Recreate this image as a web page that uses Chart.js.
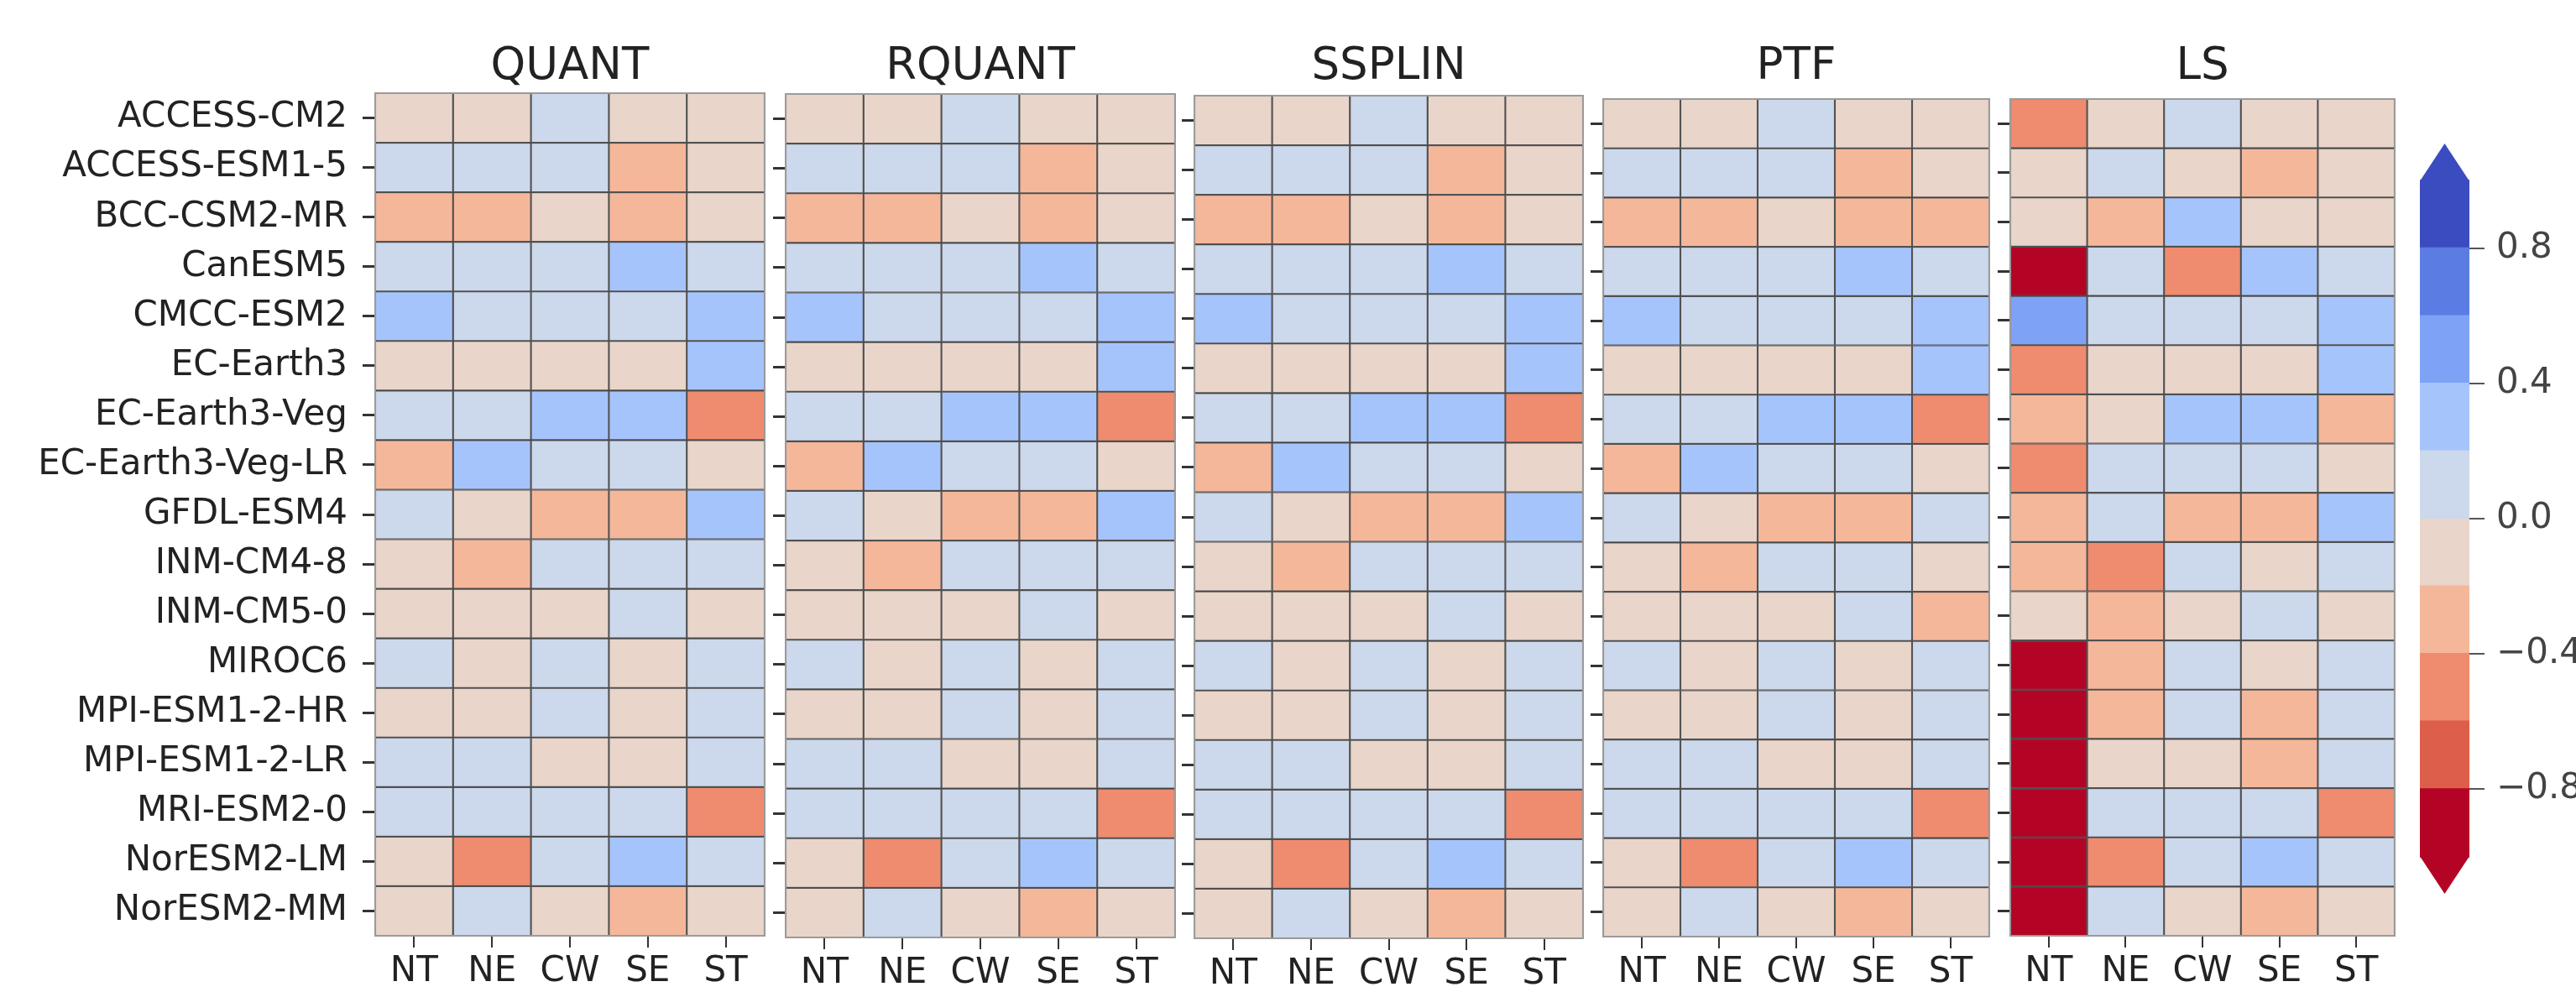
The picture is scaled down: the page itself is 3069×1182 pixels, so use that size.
<!DOCTYPE html>
<html>
<head>
<meta charset="utf-8">
<script src="https://cdn.jsdelivr.net/npm/chart.js@4.4.1/dist/chart.umd.min.js"></script>
<style>
  body { margin: 0; background: #fff; width: 3069px; height: 1182px; overflow: hidden; position: relative; }
  canvas { position: absolute; top: 0; }
</style>
</head>
<body>
<script>
// Données
const models = ['ACCESS-CM2', 'ACCESS-ESM1-5', 'BCC-CSM2-MR', 'CanESM5', 'CMCC-ESM2', 'EC-Earth3',
  'EC-Earth3-Veg', 'EC-Earth3-Veg-LR', 'GFDL-ESM4', 'INM-CM4-8', 'INM-CM5-0', 'MIROC6',
  'MPI-ESM1-2-HR', 'MPI-ESM1-2-LR', 'MRI-ESM2-0', 'NorESM2-LM', 'NorESM2-MM'];
const regions = ['NT', 'NE', 'CW', 'SE', 'ST'];
const methods = ['QUANT', 'RQUANT', 'SSPLIN', 'PTF', 'LS'];

const quant = [
  [-0.1, -0.1,  0.1, -0.1, -0.1],
  [ 0.1,  0.1,  0.1, -0.3, -0.1],
  [-0.3, -0.3, -0.1, -0.3, -0.1],
  [ 0.1,  0.1,  0.1,  0.3,  0.1],
  [ 0.3,  0.1,  0.1,  0.1,  0.3],
  [-0.1, -0.1, -0.1, -0.1,  0.3],
  [ 0.1,  0.1,  0.3,  0.3, -0.5],
  [-0.3,  0.3,  0.1,  0.1, -0.1],
  [ 0.1, -0.1, -0.3, -0.3,  0.3],
  [-0.1, -0.3,  0.1,  0.1,  0.1],
  [-0.1, -0.1, -0.1,  0.1, -0.1],
  [ 0.1, -0.1,  0.1, -0.1,  0.1],
  [-0.1, -0.1,  0.1, -0.1,  0.1],
  [ 0.1,  0.1, -0.1, -0.1,  0.1],
  [ 0.1,  0.1,  0.1,  0.1, -0.5],
  [-0.1, -0.5,  0.1,  0.3,  0.1],
  [-0.1,  0.1, -0.1, -0.3, -0.1]
];
const rquant = [
  [-0.1, -0.1,  0.1, -0.1, -0.1],
  [ 0.1,  0.1,  0.1, -0.3, -0.1],
  [-0.3, -0.3, -0.1, -0.3, -0.1],
  [ 0.1,  0.1,  0.1,  0.3,  0.1],
  [ 0.3,  0.1,  0.1,  0.1,  0.3],
  [-0.1, -0.1, -0.1, -0.1,  0.3],
  [ 0.1,  0.1,  0.3,  0.3, -0.5],
  [-0.3,  0.3,  0.1,  0.1, -0.1],
  [ 0.1, -0.1, -0.3, -0.3,  0.3],
  [-0.1, -0.3,  0.1,  0.1,  0.1],
  [-0.1, -0.1, -0.1,  0.1, -0.1],
  [ 0.1, -0.1,  0.1, -0.1,  0.1],
  [-0.1, -0.1,  0.1, -0.1,  0.1],
  [ 0.1,  0.1, -0.1, -0.1,  0.1],
  [ 0.1,  0.1,  0.1,  0.1, -0.5],
  [-0.1, -0.5,  0.1,  0.3,  0.1],
  [-0.1,  0.1, -0.1, -0.3, -0.1]
];
const ssplin = [
  [-0.1, -0.1,  0.1, -0.1, -0.1],
  [ 0.1,  0.1,  0.1, -0.3, -0.1],
  [-0.3, -0.3, -0.1, -0.3, -0.1],
  [ 0.1,  0.1,  0.1,  0.3,  0.1],
  [ 0.3,  0.1,  0.1,  0.1,  0.3],
  [-0.1, -0.1, -0.1, -0.1,  0.3],
  [ 0.1,  0.1,  0.3,  0.3, -0.5],
  [-0.3,  0.3,  0.1,  0.1, -0.1],
  [ 0.1, -0.1, -0.3, -0.3,  0.3],
  [-0.1, -0.3,  0.1,  0.1,  0.1],
  [-0.1, -0.1, -0.1,  0.1, -0.1],
  [ 0.1, -0.1,  0.1, -0.1,  0.1],
  [-0.1, -0.1,  0.1, -0.1,  0.1],
  [ 0.1,  0.1, -0.1, -0.1,  0.1],
  [ 0.1,  0.1,  0.1,  0.1, -0.5],
  [-0.1, -0.5,  0.1,  0.3,  0.1],
  [-0.1,  0.1, -0.1, -0.3, -0.1]
];
const ptf = [
  [-0.1, -0.1,  0.1, -0.1, -0.1],
  [ 0.1,  0.1,  0.1, -0.3, -0.1],
  [-0.3, -0.3, -0.1, -0.3, -0.3],
  [ 0.1,  0.1,  0.1,  0.3,  0.1],
  [ 0.3,  0.1,  0.1,  0.1,  0.3],
  [-0.1, -0.1, -0.1, -0.1,  0.3],
  [ 0.1,  0.1,  0.3,  0.3, -0.5],
  [-0.3,  0.3,  0.1,  0.1, -0.1],
  [ 0.1, -0.1, -0.3, -0.3,  0.1],
  [-0.1, -0.3,  0.1,  0.1, -0.1],
  [-0.1, -0.1, -0.1,  0.1, -0.3],
  [ 0.1, -0.1,  0.1, -0.1,  0.1],
  [-0.1, -0.1,  0.1, -0.1,  0.1],
  [ 0.1,  0.1, -0.1, -0.1,  0.1],
  [ 0.1,  0.1,  0.1,  0.1, -0.5],
  [-0.1, -0.5,  0.1,  0.3,  0.1],
  [-0.1,  0.1, -0.1, -0.3, -0.1]
];
const ls = [
  [-0.5, -0.1,  0.1, -0.1, -0.1],
  [-0.1,  0.1, -0.1, -0.3, -0.1],
  [-0.1, -0.3,  0.3, -0.1, -0.1],
  [-0.9,  0.1, -0.5,  0.3,  0.1],
  [ 0.5,  0.1,  0.1,  0.1,  0.3],
  [-0.5, -0.1, -0.1, -0.1,  0.3],
  [-0.3, -0.1,  0.3,  0.3, -0.3],
  [-0.5,  0.1,  0.1,  0.1, -0.1],
  [-0.3,  0.1, -0.3, -0.3,  0.3],
  [-0.3, -0.5,  0.1, -0.1,  0.1],
  [-0.1, -0.3, -0.1,  0.1, -0.1],
  [-0.9, -0.3,  0.1, -0.1,  0.1],
  [-0.9, -0.3,  0.1, -0.3,  0.1],
  [-0.9, -0.1, -0.1, -0.3,  0.1],
  [-0.9,  0.1,  0.1,  0.1, -0.5],
  [-0.9, -0.5,  0.1,  0.3,  0.1],
  [-0.9,  0.1, -0.1, -0.3, -0.1]
];

// Palette (coolwarm inversée, 10 classes)
const levels = [-1.0, -0.8, -0.6, -0.4, -0.2, 0.0, 0.2, 0.4, 0.6, 0.8, 1.0];
const levelColors = ['#b40426', '#dd5e4b', '#ef8b6e', '#f5b79a', '#e9d5c9',
  '#ccd8eb', '#a6c4fc', '#7ea2f6', '#5b7de3', '#3b4cc0'];
const cbarTicks = [-0.8, -0.4, 0.0, 0.4, 0.8];

function colorFor(v) {
  for (let i = 0; i < levelColors.length; i++) {
    if (v < levels[i + 1]) return levelColors[i];
  }
  return levelColors[levelColors.length - 1];
}

Chart.defaults.font.family = '"DejaVu Sans", sans-serif';
Chart.defaults.color = '#222';

// Titre de chaque panneau, centré sur la zone du graphique
const panelTitle = {
  id: 'panelTitle',
  afterDraw(chart, args, opts) {
    if (!opts.text) return;
    const { ctx, chartArea } = chart;
    ctx.save();
    ctx.strokeStyle = '#9a9a9a';
    ctx.lineWidth = 2;
    ctx.strokeRect(chartArea.left, chartArea.top, chartArea.right - chartArea.left, chartArea.bottom - chartArea.top);
    ctx.font = '53px "DejaVu Sans"';
    ctx.fillStyle = '#222';
    ctx.textAlign = 'center';
    ctx.textBaseline = 'alphabetic';
    ctx.fillText(opts.text, (chartArea.left + chartArea.right) / 2, 94);
    ctx.restore();
  }
};

// Triangles d'extension de la barre de couleur
const cbarEnds = {
  id: 'cbarEnds',
  afterDatasetsDraw(chart) {
    const { ctx, chartArea, scales } = chart;
    const y = scales.y;
    const mid = (chartArea.left + chartArea.right) / 2;
    const top = y.getPixelForValue(levels[levels.length - 1]);
    const bot = y.getPixelForValue(levels[0]);
    ctx.save();
    ctx.fillStyle = levelColors[levelColors.length - 1];
    ctx.beginPath();
    ctx.moveTo(chartArea.left, top + 0.5);
    ctx.lineTo(mid, y.getPixelForValue(y.max));
    ctx.lineTo(chartArea.right, top + 0.5);
    ctx.closePath();
    ctx.fill();
    ctx.fillStyle = levelColors[0];
    ctx.beginPath();
    ctx.moveTo(chartArea.left, bot - 0.5);
    ctx.lineTo(mid, y.getPixelForValue(y.min));
    ctx.lineTo(chartArea.right, bot - 0.5);
    ctx.closePath();
    ctx.fill();
    ctx.restore();
  }
};

const H = 1182;
const panels = [
  { name: 'QUANT', values: quant, box: [447, 111, 911, 1115] },
  { name: 'RQUANT', values: rquant, box: [936, 112, 1400, 1117] },
  { name: 'SSPLIN', values: ssplin, box: [1423, 114, 1886, 1118] },
  { name: 'PTF', values: ptf, box: [1910, 118, 2370, 1116] },
  { name: 'LS', values: ls, box: [2395, 118, 2853, 1115] }
];

panels.forEach((p, k) => {
  const [left, top, right, bottom] = p.box;
  const leftSpace = k === 0 ? left : 30;
  const rightPad = 8;
  const canvas = document.createElement('canvas');
  canvas.width = right - left + leftSpace + rightPad;
  canvas.height = H;
  canvas.style.left = (left - leftSpace) + 'px';
  document.body.appendChild(canvas);

  new Chart(canvas, {
    type: 'bar',
    data: {
      labels: models,
      datasets: regions.map((r, j) => ({
        label: r,
        data: models.map(() => [j, j + 1]),
        backgroundColor: p.values.map(row => colorFor(row[j])),
        borderColor: 'rgba(55,55,55,0.85)',
        borderWidth: 1.4,
        borderSkipped: false,
        grouped: false,
        barPercentage: 1,
        categoryPercentage: 1
      }))
    },
    plugins: [panelTitle],
    options: {
      indexAxis: 'y',
      responsive: false,
      animation: false,
      layout: { padding: { top: top, right: rightPad, bottom: 0, left: 0 } },
      plugins: {
        legend: { display: false },
        tooltip: { enabled: false },
        panelTitle: { text: p.name }
      },
      scales: {
        y: {
          type: 'category',
          grid: { offset: false, drawOnChartArea: false, tickLength: 15, lineWidth: 3, color: '#333' },
          border: { display: false },
          ticks: { display: k === 0, font: { size: 42 }, color: '#222', padding: 18 },
          afterFit: s => { s.width = leftSpace; }
        },
        x: {
          type: 'linear',
          min: 0,
          max: regions.length,
          grid: { drawOnChartArea: false, tickLength: 14, lineWidth: 2, color: '#333' },
          border: { display: false },
          ticks: { autoSkip: false, maxRotation: 0, font: { size: 42 }, color: '#222', padding: 4,
            callback: (v, i) => regions[i] },
          afterBuildTicks: s => { s.ticks = regions.map((r, i) => ({ value: i + 0.5 })); },
          afterFit: s => { s.height = H - bottom; }
        }
      }
    }
  });
});

// Barre de couleur
const cb = document.createElement('canvas');
cb.width = 3069 - 2860;
cb.height = H;
cb.style.left = '2860px';
document.body.appendChild(cb);

new Chart(cb, {
  type: 'bar',
  data: {
    labels: [''],
    datasets: levelColors.map((c, i) => ({
      data: [[levels[i], levels[i + 1]]],
      backgroundColor: c,
      borderWidth: 0,
      inflateAmount: 1,
      grouped: false,
      barPercentage: 1,
      categoryPercentage: 1
    }))
  },
  plugins: [cbarEnds],
  options: {
    responsive: false,
    animation: false,
    layout: { padding: { top: 171, left: 23, right: 0, bottom: H - 1065 } },
    plugins: { legend: { display: false }, tooltip: { enabled: false } },
    scales: {
      x: { display: false },
      y: {
        position: 'right',
        min: -1.11,
        max: 1.11,
        grid: { drawOnChartArea: false, tickLength: 18, lineWidth: 2, color: '#555' },
        border: { display: false },
        ticks: {
          font: { size: 42 }, color: '#444', padding: 14,
          callback: v => (v < 0 ? '\u2212' : '') + Math.abs(v).toFixed(1)
        },
        afterBuildTicks: s => { s.ticks = cbarTicks.map(v => ({ value: v })); },
        afterFit: s => { s.width = 3069 - 2860 - 23 - 59; }
      }
    }
  }
});
</script>
</body>
</html>
